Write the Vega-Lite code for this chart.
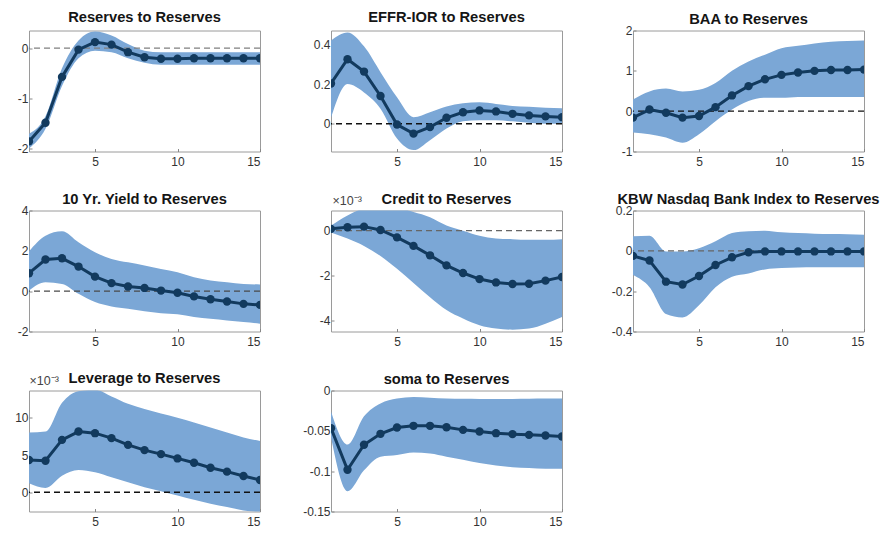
{
  "$schema": "https://vega.github.io/schema/vega-lite/v6.json",
  "padding": {"left": 0, "top": 9.5, "right": 0, "bottom": 0},
  "background": "white",
  "config": {
    "font": "Liberation Sans, Arial, sans-serif",
    "locale": {"number": {"decimal": ".", "thousands": ",", "grouping": [3], "currency": ["$", ""], "minus": "-"}},
    "view": {"stroke": "#9a9a9a", "strokeWidth": 1},
    "axis": {"grid": false, "domain": false, "labelFont": "Liberation Sans, Arial, sans-serif", "labelFontSize": 12, "labelColor": "#333333", "tickColor": "#888888", "tickSize": -3, "title": null, "labelOverlap": false, "tickCount": 12},
    "axisY": {"minExtent": 28, "maxExtent": 28, "labelPadding": 4, "format": "~r"},
    "axisX": {"labelPadding": 8},
    "title": {"font": "Liberation Sans, Arial, sans-serif", "fontSize": 14.7, "fontWeight": "bold", "color": "#151515", "offset": 5.5, "frame": "group", "anchor": "middle"}
  },
  "datasets": {
    "irf": [
      {"panel": "Reserves", "h": 1, "irf": -1.85, "lo": -1.99, "hi": -1.70},
      {"panel": "Reserves", "h": 2, "irf": -1.48, "lo": -1.60, "hi": -1.35},
      {"panel": "Reserves", "h": 3, "irf": -0.57, "lo": -0.75, "hi": -0.40},
      {"panel": "Reserves", "h": 4, "irf": -0.03, "lo": -0.20, "hi": 0.15},
      {"panel": "Reserves", "h": 5, "irf": 0.12, "lo": -0.05, "hi": 0.33},
      {"panel": "Reserves", "h": 6, "irf": 0.07, "lo": -0.08, "hi": 0.25},
      {"panel": "Reserves", "h": 7, "irf": -0.08, "lo": -0.20, "hi": 0.08},
      {"panel": "Reserves", "h": 8, "irf": -0.18, "lo": -0.29, "hi": -0.05},
      {"panel": "Reserves", "h": 9, "irf": -0.21, "lo": -0.33, "hi": -0.08},
      {"panel": "Reserves", "h": 10, "irf": -0.21, "lo": -0.33, "hi": -0.08},
      {"panel": "Reserves", "h": 11, "irf": -0.20, "lo": -0.33, "hi": -0.08},
      {"panel": "Reserves", "h": 12, "irf": -0.20, "lo": -0.33, "hi": -0.08},
      {"panel": "Reserves", "h": 13, "irf": -0.20, "lo": -0.33, "hi": -0.08},
      {"panel": "Reserves", "h": 14, "irf": -0.20, "lo": -0.33, "hi": -0.08},
      {"panel": "Reserves", "h": 15, "irf": -0.20, "lo": -0.33, "hi": -0.08},

      {"panel": "EFFR", "h": 1, "irf": 0.203, "lo": 0.03, "hi": 0.42},
      {"panel": "EFFR", "h": 2, "irf": 0.325, "lo": 0.20, "hi": 0.46},
      {"panel": "EFFR", "h": 3, "irf": 0.263, "lo": 0.158, "hi": 0.39},
      {"panel": "EFFR", "h": 4, "irf": 0.14, "lo": 0.076, "hi": 0.26},
      {"panel": "EFFR", "h": 5, "irf": -0.004, "lo": -0.075, "hi": 0.133},
      {"panel": "EFFR", "h": 6, "irf": -0.05, "lo": -0.133, "hi": 0.033},
      {"panel": "EFFR", "h": 7, "irf": -0.017, "lo": -0.083, "hi": 0.058},
      {"panel": "EFFR", "h": 8, "irf": 0.03, "lo": -0.024, "hi": 0.087},
      {"panel": "EFFR", "h": 9, "irf": 0.058, "lo": 0.013, "hi": 0.103},
      {"panel": "EFFR", "h": 10, "irf": 0.067, "lo": 0.017, "hi": 0.108},
      {"panel": "EFFR", "h": 11, "irf": 0.062, "lo": 0.017, "hi": 0.10},
      {"panel": "EFFR", "h": 12, "irf": 0.05, "lo": 0.012, "hi": 0.09},
      {"panel": "EFFR", "h": 13, "irf": 0.042, "lo": 0.005, "hi": 0.085},
      {"panel": "EFFR", "h": 14, "irf": 0.037, "lo": 0.0, "hi": 0.08},
      {"panel": "EFFR", "h": 15, "irf": 0.033, "lo": 0.0, "hi": 0.078},

      {"panel": "BAA", "h": 1, "irf": -0.16, "lo": -0.53, "hi": 0.29},
      {"panel": "BAA", "h": 2, "irf": 0.04, "lo": -0.57, "hi": 0.49},
      {"panel": "BAA", "h": 3, "irf": -0.04, "lo": -0.65, "hi": 0.56},
      {"panel": "BAA", "h": 4, "irf": -0.16, "lo": -0.78, "hi": 0.49},
      {"panel": "BAA", "h": 5, "irf": -0.12, "lo": -0.57, "hi": 0.53},
      {"panel": "BAA", "h": 6, "irf": 0.10, "lo": -0.25, "hi": 0.70},
      {"panel": "BAA", "h": 7, "irf": 0.39, "lo": 0.04, "hi": 1.00},
      {"panel": "BAA", "h": 8, "irf": 0.62, "lo": 0.25, "hi": 1.23},
      {"panel": "BAA", "h": 9, "irf": 0.79, "lo": 0.33, "hi": 1.40},
      {"panel": "BAA", "h": 10, "irf": 0.90, "lo": 0.33, "hi": 1.56},
      {"panel": "BAA", "h": 11, "irf": 0.96, "lo": 0.35, "hi": 1.62},
      {"panel": "BAA", "h": 12, "irf": 1.00, "lo": 0.35, "hi": 1.68},
      {"panel": "BAA", "h": 13, "irf": 1.02, "lo": 0.35, "hi": 1.72},
      {"panel": "BAA", "h": 14, "irf": 1.02, "lo": 0.35, "hi": 1.74},
      {"panel": "BAA", "h": 15, "irf": 1.03, "lo": 0.35, "hi": 1.75},

      {"panel": "TenYr", "h": 1, "irf": 0.89, "lo": 0.03, "hi": 1.98},
      {"panel": "TenYr", "h": 2, "irf": 1.57, "lo": 0.44, "hi": 2.75},
      {"panel": "TenYr", "h": 3, "irf": 1.63, "lo": 0.36, "hi": 2.97},
      {"panel": "TenYr", "h": 4, "irf": 1.22, "lo": -0.13, "hi": 2.42},
      {"panel": "TenYr", "h": 5, "irf": 0.72, "lo": -0.54, "hi": 1.93},
      {"panel": "TenYr", "h": 6, "irf": 0.40, "lo": -0.76, "hi": 1.60},
      {"panel": "TenYr", "h": 7, "irf": 0.23, "lo": -0.87, "hi": 1.43},
      {"panel": "TenYr", "h": 8, "irf": 0.16, "lo": -0.99, "hi": 1.27},
      {"panel": "TenYr", "h": 9, "irf": 0.03, "lo": -1.09, "hi": 1.10},
      {"panel": "TenYr", "h": 10, "irf": -0.08, "lo": -1.15, "hi": 0.94},
      {"panel": "TenYr", "h": 11, "irf": -0.26, "lo": -1.28, "hi": 0.69},
      {"panel": "TenYr", "h": 12, "irf": -0.40, "lo": -1.37, "hi": 0.53},
      {"panel": "TenYr", "h": 13, "irf": -0.51, "lo": -1.45, "hi": 0.44},
      {"panel": "TenYr", "h": 14, "irf": -0.63, "lo": -1.53, "hi": 0.36},
      {"panel": "TenYr", "h": 15, "irf": -0.68, "lo": -1.61, "hi": 0.33},

      {"panel": "Credit", "h": 1, "irf": 0.08, "lo": -0.08, "hi": 0.23},
      {"panel": "Credit", "h": 2, "irf": 0.15, "lo": -0.35, "hi": 0.68},
      {"panel": "Credit", "h": 3, "irf": 0.18, "lo": -0.68, "hi": 1.0},
      {"panel": "Credit", "h": 4, "irf": 0.03, "lo": -1.13, "hi": 1.1},
      {"panel": "Credit", "h": 5, "irf": -0.30, "lo": -1.70, "hi": 1.05},
      {"panel": "Credit", "h": 6, "irf": -0.68, "lo": -2.33, "hi": 0.83},
      {"panel": "Credit", "h": 7, "irf": -1.10, "lo": -2.97, "hi": 0.60},
      {"panel": "Credit", "h": 8, "irf": -1.55, "lo": -3.54, "hi": 0.23},
      {"panel": "Credit", "h": 9, "irf": -1.89, "lo": -3.92, "hi": 0.0},
      {"panel": "Credit", "h": 10, "irf": -2.16, "lo": -4.22, "hi": -0.23},
      {"panel": "Credit", "h": 11, "irf": -2.31, "lo": -4.37, "hi": -0.35},
      {"panel": "Credit", "h": 12, "irf": -2.38, "lo": -4.42, "hi": -0.38},
      {"panel": "Credit", "h": 13, "irf": -2.37, "lo": -4.37, "hi": -0.41},
      {"panel": "Credit", "h": 14, "irf": -2.23, "lo": -4.15, "hi": -0.41},
      {"panel": "Credit", "h": 15, "irf": -2.07, "lo": -3.85, "hi": -0.38},

      {"panel": "KBW", "h": 1, "irf": -0.025, "lo": -0.12, "hi": 0.072},
      {"panel": "KBW", "h": 2, "irf": -0.048, "lo": -0.18, "hi": 0.075},
      {"panel": "KBW", "h": 3, "irf": -0.153, "lo": -0.313, "hi": -0.003},
      {"panel": "KBW", "h": 4, "irf": -0.167, "lo": -0.33, "hi": -0.003},
      {"panel": "KBW", "h": 5, "irf": -0.125, "lo": -0.27, "hi": 0.013},
      {"panel": "KBW", "h": 6, "irf": -0.07, "lo": -0.18, "hi": 0.047},
      {"panel": "KBW", "h": 7, "irf": -0.032, "lo": -0.128, "hi": 0.088},
      {"panel": "KBW", "h": 8, "irf": -0.007, "lo": -0.112, "hi": 0.097},
      {"panel": "KBW", "h": 9, "irf": -0.003, "lo": -0.092, "hi": 0.10},
      {"panel": "KBW", "h": 10, "irf": -0.003, "lo": -0.085, "hi": 0.092},
      {"panel": "KBW", "h": 11, "irf": -0.003, "lo": -0.083, "hi": 0.088},
      {"panel": "KBW", "h": 12, "irf": -0.003, "lo": -0.082, "hi": 0.085},
      {"panel": "KBW", "h": 13, "irf": -0.003, "lo": -0.082, "hi": 0.083},
      {"panel": "KBW", "h": 14, "irf": -0.003, "lo": -0.082, "hi": 0.082},
      {"panel": "KBW", "h": 15, "irf": -0.003, "lo": -0.082, "hi": 0.08},

      {"panel": "Leverage", "h": 1, "irf": 4.33, "lo": 1.2, "hi": 8.04},
      {"panel": "Leverage", "h": 2, "irf": 4.24, "lo": 0.58, "hi": 8.17},
      {"panel": "Leverage", "h": 3, "irf": 7.05, "lo": 2.23, "hi": 12.05},
      {"panel": "Leverage", "h": 4, "irf": 8.17, "lo": 2.99, "hi": 13.6},
      {"panel": "Leverage", "h": 5, "irf": 7.95, "lo": 2.68, "hi": 13.8},
      {"panel": "Leverage", "h": 6, "irf": 7.28, "lo": 2.0, "hi": 12.9},
      {"panel": "Leverage", "h": 7, "irf": 6.38, "lo": 1.34, "hi": 11.9},
      {"panel": "Leverage", "h": 8, "irf": 5.67, "lo": 0.67, "hi": 11.2},
      {"panel": "Leverage", "h": 9, "irf": 5.13, "lo": 0.13, "hi": 10.6},
      {"panel": "Leverage", "h": 10, "irf": 4.55, "lo": -0.45, "hi": 10.04},
      {"panel": "Leverage", "h": 11, "irf": 3.97, "lo": -1.03, "hi": 9.4},
      {"panel": "Leverage", "h": 12, "irf": 3.30, "lo": -1.56, "hi": 8.7},
      {"panel": "Leverage", "h": 13, "irf": 2.77, "lo": -2.0, "hi": 8.04},
      {"panel": "Leverage", "h": 14, "irf": 2.19, "lo": -2.45, "hi": 7.37},
      {"panel": "Leverage", "h": 15, "irf": 1.65, "lo": -2.7, "hi": 6.9},

      {"panel": "soma", "h": 1, "irf": -0.0467, "lo": -0.058, "hi": -0.026},
      {"panel": "soma", "h": 2, "irf": -0.0983, "lo": -0.125, "hi": -0.067},
      {"panel": "soma", "h": 3, "irf": -0.0673, "lo": -0.099, "hi": -0.032},
      {"panel": "soma", "h": 4, "irf": -0.0537, "lo": -0.082, "hi": -0.016},
      {"panel": "soma", "h": 5, "irf": -0.0459, "lo": -0.080, "hi": -0.010},
      {"panel": "soma", "h": 6, "irf": -0.0438, "lo": -0.077, "hi": -0.008},
      {"panel": "soma", "h": 7, "irf": -0.0438, "lo": -0.078, "hi": -0.009},
      {"panel": "soma", "h": 8, "irf": -0.0455, "lo": -0.082, "hi": -0.010},
      {"panel": "soma", "h": 9, "irf": -0.0488, "lo": -0.086, "hi": -0.0103},
      {"panel": "soma", "h": 10, "irf": -0.0508, "lo": -0.090, "hi": -0.0105},
      {"panel": "soma", "h": 11, "irf": -0.0529, "lo": -0.093, "hi": -0.0105},
      {"panel": "soma", "h": 12, "irf": -0.0541, "lo": -0.095, "hi": -0.0105},
      {"panel": "soma", "h": 13, "irf": -0.0550, "lo": -0.096, "hi": -0.0103},
      {"panel": "soma", "h": 14, "irf": -0.0558, "lo": -0.097, "hi": -0.010},
      {"panel": "soma", "h": 15, "irf": -0.0570, "lo": -0.097, "hi": -0.0098}
    ],
    "zero": [{"level": 0}]
  },
  "columns": 3,
  "bounds": "flush",
  "align": "all",
  "spacing": {"row": 59, "column": 71},
  "concat": [
      {"width": 231, "height": 121, "title": "Reserves to Reserves",
       "layer": [
         {"data": {"name": "irf"}, "transform": [{"filter": "datum.panel === 'Reserves'"}],
          "mark": {"type": "area", "interpolate": "monotone", "color": "#7ba7d6", "opacity": 1, "clip": true},
          "encoding": {"x": {"field": "h", "type": "quantitative", "scale": {"domain": [1, 15], "nice": false, "zero": false}, "axis": {"values": [5, 10, 15]}}, "y": {"field": "lo", "type": "quantitative", "scale": {"domain": [-2.05, 0.35], "nice": false, "zero": false}, "axis": {"values": [-2, -1, 0]}}, "y2": {"field": "hi"}}},
         {"data": {"name": "zero"}, "mark": {"type": "rule", "strokeDash": [6, 4], "color": "#808080", "strokeWidth": 1.3}, "encoding": {"y": {"field": "level", "type": "quantitative"}}},
         {"data": {"name": "irf"}, "transform": [{"filter": "datum.panel === 'Reserves'"}],
          "mark": {"type": "line", "color": "#123a5e", "strokeWidth": 3, "clip": true, "point": {"filled": true, "size": 70, "color": "#123a5e", "opacity": 1}}, "encoding": {"x": {"field": "h", "type": "quantitative"}, "y": {"field": "irf", "type": "quantitative"}}}
       ]},
      {"width": 231, "height": 121, "title": "EFFR-IOR to Reserves",
       "layer": [
         {"data": {"name": "irf"}, "transform": [{"filter": "datum.panel === 'EFFR'"}],
          "mark": {"type": "area", "interpolate": "monotone", "color": "#7ba7d6", "opacity": 1, "clip": true},
          "encoding": {"x": {"field": "h", "type": "quantitative", "scale": {"domain": [1, 15], "nice": false, "zero": false}, "axis": {"values": [5, 10, 15]}}, "y": {"field": "lo", "type": "quantitative", "scale": {"domain": [-0.14, 0.47], "nice": false, "zero": false}, "axis": {"values": [0, 0.2, 0.4]}}, "y2": {"field": "hi"}}},
         {"data": {"name": "zero"}, "mark": {"type": "rule", "strokeDash": [6, 4], "color": "#111111", "strokeWidth": 1.4}, "encoding": {"y": {"field": "level", "type": "quantitative"}}},
         {"data": {"name": "irf"}, "transform": [{"filter": "datum.panel === 'EFFR'"}],
          "mark": {"type": "line", "color": "#123a5e", "strokeWidth": 3, "clip": true, "point": {"filled": true, "size": 70, "color": "#123a5e", "opacity": 1}}, "encoding": {"x": {"field": "h", "type": "quantitative"}, "y": {"field": "irf", "type": "quantitative"}}}
       ]},
      {"width": 231, "height": 121, "title": {"text": "BAA to Reserves", "offset": -2.5},
       "layer": [
         {"data": {"name": "irf"}, "transform": [{"filter": "datum.panel === 'BAA'"}],
          "mark": {"type": "area", "interpolate": "monotone", "color": "#7ba7d6", "opacity": 1, "clip": true},
          "encoding": {"x": {"field": "h", "type": "quantitative", "scale": {"domain": [1, 15], "nice": false, "zero": false}, "axis": {"values": [5, 10, 15]}}, "y": {"field": "lo", "type": "quantitative", "scale": {"domain": [-1, 2], "nice": false, "zero": false}, "axis": {"values": [-1, 0, 1, 2]}}, "y2": {"field": "hi"}}},
         {"data": {"name": "zero"}, "mark": {"type": "rule", "strokeDash": [6, 4], "color": "#111111", "strokeWidth": 1.4}, "encoding": {"y": {"field": "level", "type": "quantitative"}}},
         {"data": {"name": "irf"}, "transform": [{"filter": "datum.panel === 'BAA'"}],
          "mark": {"type": "line", "color": "#123a5e", "strokeWidth": 3, "clip": true, "point": {"filled": true, "size": 70, "color": "#123a5e", "opacity": 1}}, "encoding": {"x": {"field": "h", "type": "quantitative"}, "y": {"field": "irf", "type": "quantitative"}}}
       ]},
      {"width": 231, "height": 121, "title": {"text": "10 Yr. Yield to Reserves", "offset": -2.5},
       "layer": [
         {"data": {"name": "irf"}, "transform": [{"filter": "datum.panel === 'TenYr'"}],
          "mark": {"type": "area", "interpolate": "monotone", "color": "#7ba7d6", "opacity": 1, "clip": true},
          "encoding": {"x": {"field": "h", "type": "quantitative", "scale": {"domain": [1, 15], "nice": false, "zero": false}, "axis": {"values": [5, 10, 15]}}, "y": {"field": "lo", "type": "quantitative", "scale": {"domain": [-2, 4], "nice": false, "zero": false}, "axis": {"values": [-2, 0, 2, 4]}}, "y2": {"field": "hi"}}},
         {"data": {"name": "zero"}, "mark": {"type": "rule", "strokeDash": [6, 4], "color": "#4a4a4a", "strokeWidth": 1.4}, "encoding": {"y": {"field": "level", "type": "quantitative"}}},
         {"data": {"name": "irf"}, "transform": [{"filter": "datum.panel === 'TenYr'"}],
          "mark": {"type": "line", "color": "#123a5e", "strokeWidth": 3, "clip": true, "point": {"filled": true, "size": 70, "color": "#123a5e", "opacity": 1}}, "encoding": {"x": {"field": "h", "type": "quantitative"}, "y": {"field": "irf", "type": "quantitative"}}}
       ]},
      {"width": 231, "height": 121, "title": {"text": "Credit to Reserves", "offset": -12.5},
       "layer": [
         {"data": {"name": "irf"}, "transform": [{"filter": "datum.panel === 'Credit'"}],
          "mark": {"type": "area", "interpolate": "monotone", "color": "#7ba7d6", "opacity": 1, "clip": true},
          "encoding": {"x": {"field": "h", "type": "quantitative", "scale": {"domain": [1, 15], "nice": false, "zero": false}, "axis": {"values": [5, 10, 15]}}, "y": {"field": "lo", "type": "quantitative", "scale": {"domain": [-4.5, 0.9], "nice": false, "zero": false}, "axis": {"values": [-4, -2, 0], "title": "×10⁻³", "titleAngle": 0, "titleAlign": "left", "titleBaseline": "alphabetic", "titleX": 1, "titleY": -6, "titleFontSize": 12.5, "titleFontWeight": "normal", "titleColor": "#444444"}}, "y2": {"field": "hi"}}},
         {"data": {"name": "zero"}, "mark": {"type": "rule", "strokeDash": [6, 4], "color": "#666666", "strokeWidth": 1.1}, "encoding": {"y": {"field": "level", "type": "quantitative"}}},
         {"data": {"name": "irf"}, "transform": [{"filter": "datum.panel === 'Credit'"}],
          "mark": {"type": "line", "color": "#123a5e", "strokeWidth": 3, "clip": true, "point": {"filled": true, "size": 70, "color": "#123a5e", "opacity": 1}}, "encoding": {"x": {"field": "h", "type": "quantitative"}, "y": {"field": "irf", "type": "quantitative"}}}
       ]},
      {"width": 231, "height": 121, "title": {"text": "KBW Nasdaq Bank Index to Reserves", "offset": -2.5},
       "layer": [
         {"data": {"name": "irf"}, "transform": [{"filter": "datum.panel === 'KBW'"}],
          "mark": {"type": "area", "interpolate": "monotone", "color": "#7ba7d6", "opacity": 1, "clip": true},
          "encoding": {"x": {"field": "h", "type": "quantitative", "scale": {"domain": [1, 15], "nice": false, "zero": false}, "axis": {"values": [5, 10, 15]}}, "y": {"field": "lo", "type": "quantitative", "scale": {"domain": [-0.4, 0.2], "nice": false, "zero": false}, "axis": {"values": [-0.4, -0.2, 0, 0.2]}}, "y2": {"field": "hi"}}},
         {"data": {"name": "zero"}, "mark": {"type": "rule", "strokeDash": [6, 4], "color": "#666666", "strokeWidth": 1.4}, "encoding": {"y": {"field": "level", "type": "quantitative"}}},
         {"data": {"name": "irf"}, "transform": [{"filter": "datum.panel === 'KBW'"}],
          "mark": {"type": "line", "color": "#123a5e", "strokeWidth": 3, "clip": true, "point": {"filled": true, "size": 70, "color": "#123a5e", "opacity": 1}}, "encoding": {"x": {"field": "h", "type": "quantitative"}, "y": {"field": "irf", "type": "quantitative"}}}
       ]},
      {"width": 231, "height": 121, "title": {"text": "Leverage to Reserves", "offset": -11.5},
       "layer": [
         {"data": {"name": "irf"}, "transform": [{"filter": "datum.panel === 'Leverage'"}],
          "mark": {"type": "area", "interpolate": "monotone", "color": "#7ba7d6", "opacity": 1, "clip": true},
          "encoding": {"x": {"field": "h", "type": "quantitative", "scale": {"domain": [1, 15], "nice": false, "zero": false}, "axis": {"values": [5, 10, 15]}}, "y": {"field": "lo", "type": "quantitative", "scale": {"domain": [-2.6, 13.7], "nice": false, "zero": false}, "axis": {"values": [0, 5, 10], "title": "×10⁻³", "titleAngle": 0, "titleAlign": "left", "titleBaseline": "alphabetic", "titleX": 0, "titleY": -6, "titleFontSize": 12.5, "titleFontWeight": "normal", "titleColor": "#444444"}}, "y2": {"field": "hi"}}},
         {"data": {"name": "zero"}, "mark": {"type": "rule", "strokeDash": [6, 4], "color": "#111111", "strokeWidth": 1.4}, "encoding": {"y": {"field": "level", "type": "quantitative"}}},
         {"data": {"name": "irf"}, "transform": [{"filter": "datum.panel === 'Leverage'"}],
          "mark": {"type": "line", "color": "#123a5e", "strokeWidth": 3, "clip": true, "point": {"filled": true, "size": 70, "color": "#123a5e", "opacity": 1}}, "encoding": {"x": {"field": "h", "type": "quantitative"}, "y": {"field": "irf", "type": "quantitative"}}}
       ]},
      {"width": 231, "height": 121, "title": {"text": "soma to Reserves", "offset": -2.5},
       "layer": [
         {"data": {"name": "irf"}, "transform": [{"filter": "datum.panel === 'soma'"}],
          "mark": {"type": "area", "interpolate": "monotone", "color": "#7ba7d6", "opacity": 1, "clip": true},
          "encoding": {"x": {"field": "h", "type": "quantitative", "scale": {"domain": [1, 15], "nice": false, "zero": false}, "axis": {"values": [5, 10, 15]}}, "y": {"field": "lo", "type": "quantitative", "scale": {"domain": [-0.15, 0], "nice": false, "zero": false}, "axis": {"values": [-0.15, -0.1, -0.05, 0]}}, "y2": {"field": "hi"}}},
         {"data": {"name": "irf"}, "transform": [{"filter": "datum.panel === 'soma'"}],
          "mark": {"type": "line", "color": "#123a5e", "strokeWidth": 3, "clip": true, "point": {"filled": true, "size": 70, "color": "#123a5e", "opacity": 1}}, "encoding": {"x": {"field": "h", "type": "quantitative"}, "y": {"field": "irf", "type": "quantitative"}}}
       ]}
  ]
}
